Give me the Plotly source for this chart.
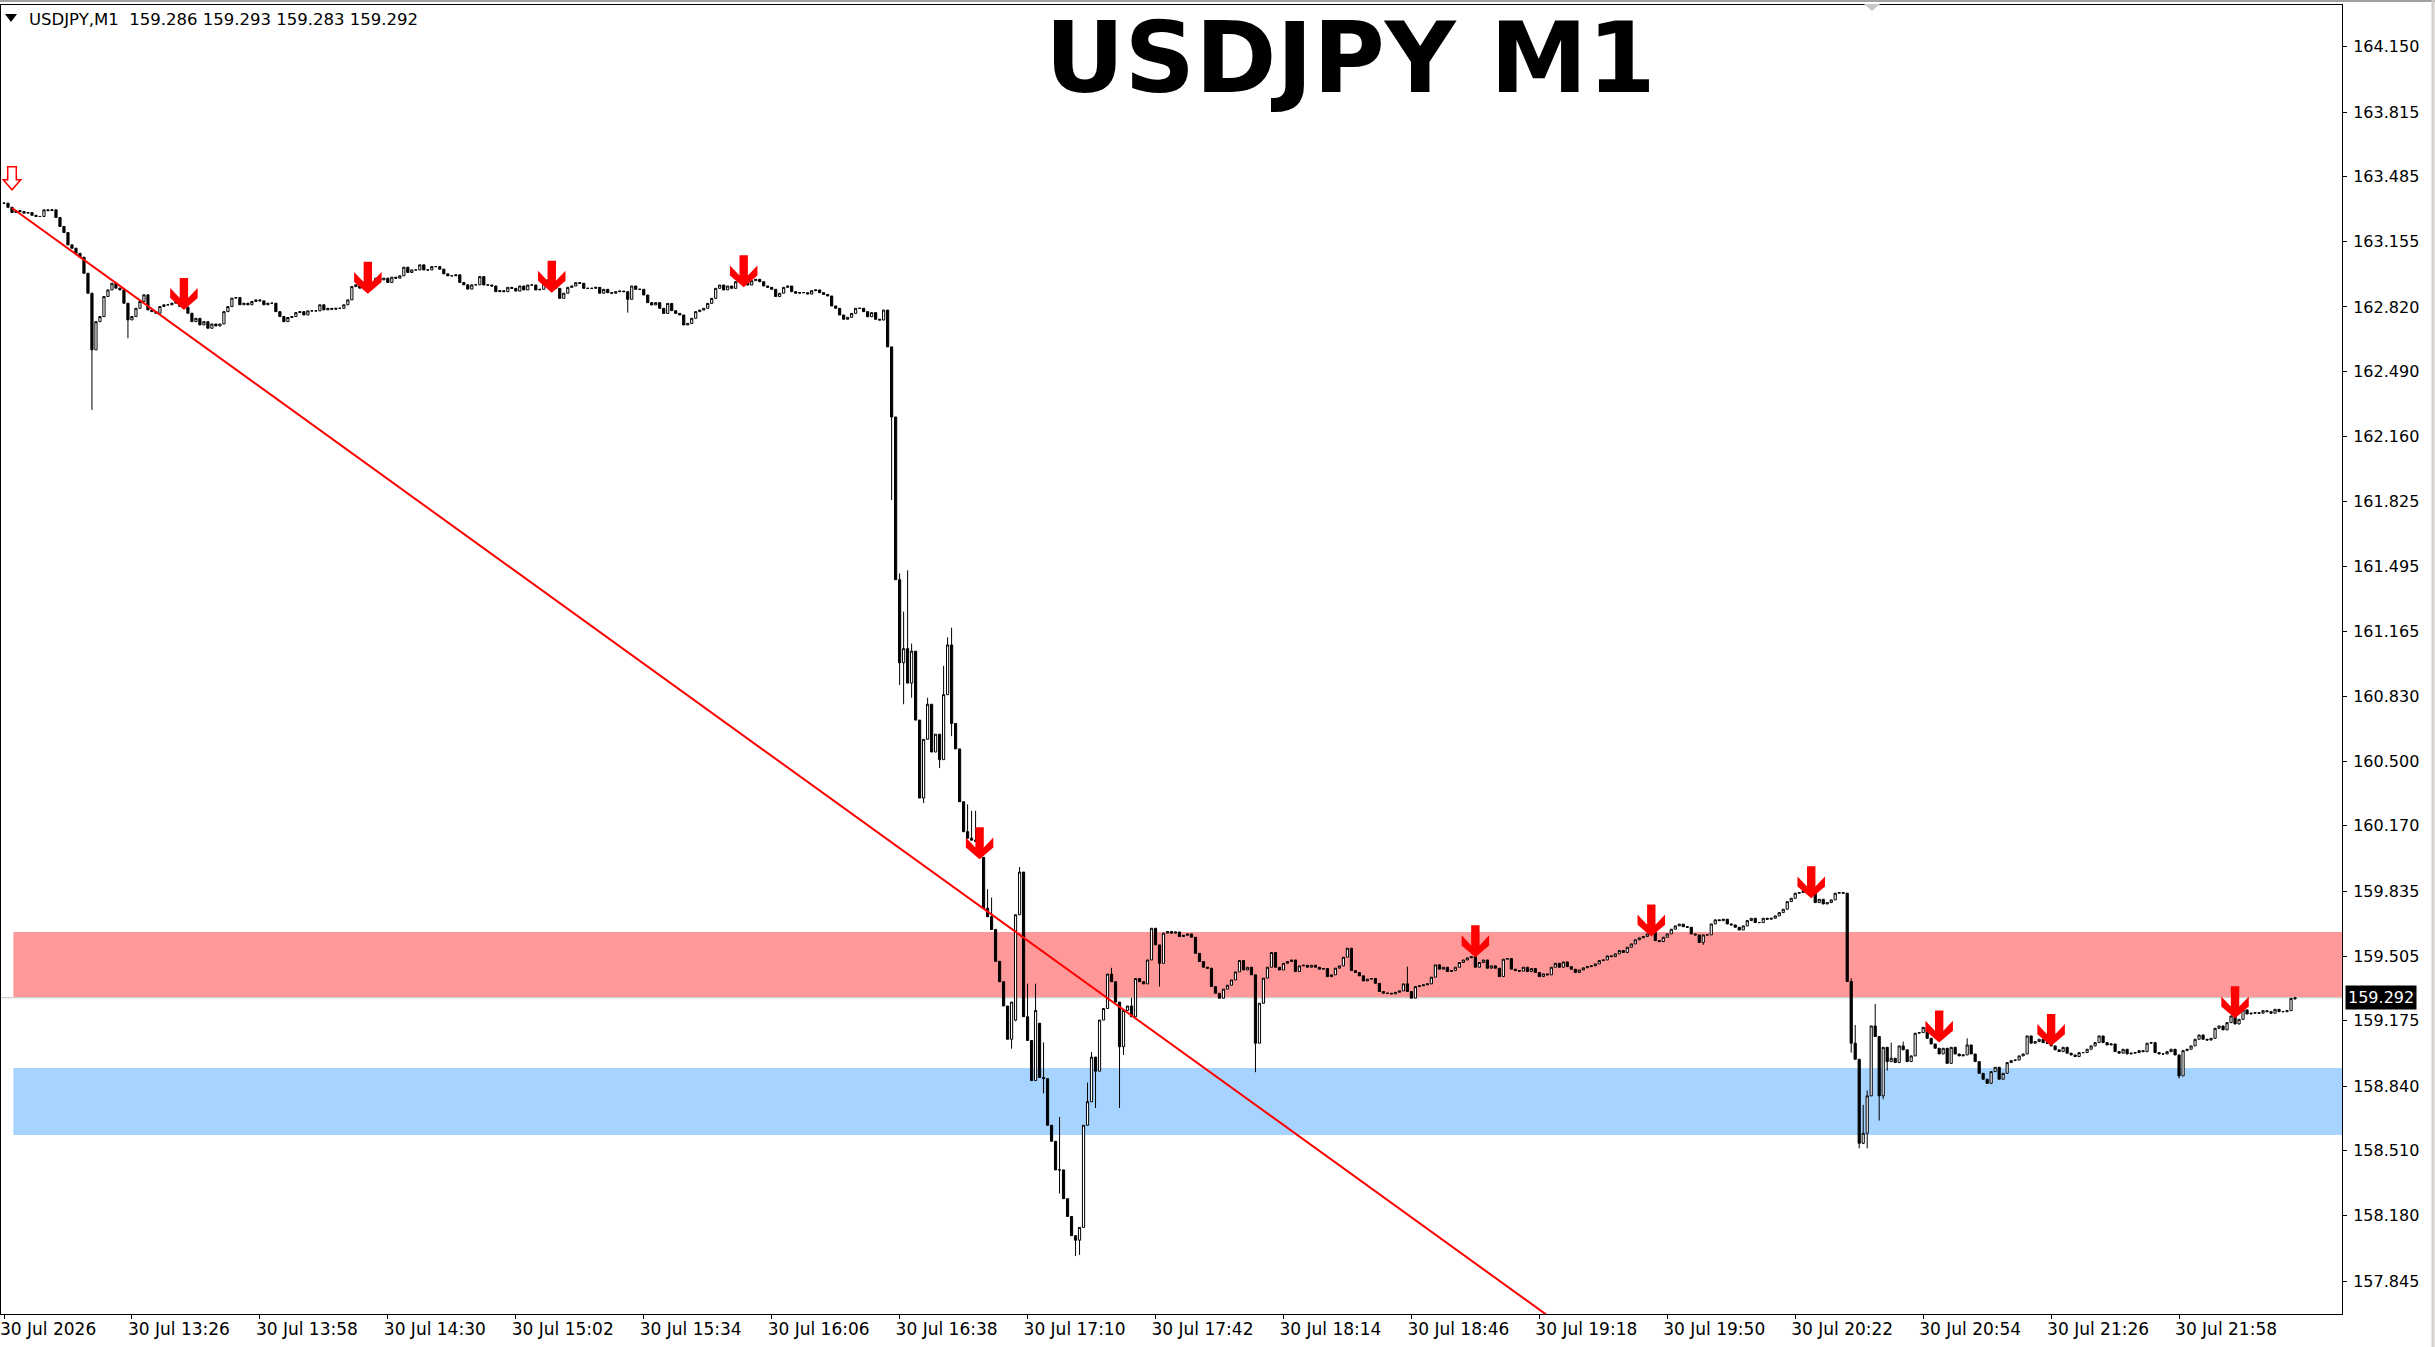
import numpy                as np
import plotly.graph_objects as go


# ---- values (USDJPY M1, 30 Jul) ----

time_labels = ['30 Jul 2026', '30 Jul 13:26', '30 Jul 13:58', '30 Jul 14:30', '30 Jul 15:02',
			   '30 Jul 15:34', '30 Jul 16:06', '30 Jul 16:38', '30 Jul 17:10', '30 Jul 17:42',
			   '30 Jul 18:14', '30 Jul 18:46', '30 Jul 19:18', '30 Jul 19:50', '30 Jul 20:22',
			   '30 Jul 20:54', '30 Jul 21:26', '30 Jul 21:58']
time_label_bars = [0, 32, 64, 96, 128, 160, 192, 224, 256, 288, 320, 352, 384, 416, 448, 480, 512, 544]

price_ticks = [164.150, 163.815, 163.485, 163.155, 162.820, 162.490, 162.160, 161.825, 161.495, 161.165,
			   160.830, 160.500, 160.170, 159.835, 159.505, 159.175, 158.840, 158.510, 158.180, 157.845]

# close of every one-minute bar, starting 12:54
closes = [
	163.350, 163.329, 163.302, 163.312, 163.307, 163.299, 163.302, 163.288, 163.282, 163.282,   # 0
	163.316, 163.312, 163.316, 163.277, 163.231, 163.200, 163.137, 163.120, 163.094, 163.074,   # 10
	162.992, 162.890, 162.601, 162.745, 162.771, 162.873, 162.907, 162.941, 162.916, 162.907,   # 20
	162.839, 162.754, 162.771, 162.813, 162.848, 162.882, 162.805, 162.796, 162.788, 162.822,   # 30
	162.831, 162.831, 162.839, 162.848, 162.822, 162.819, 162.788, 162.745, 162.762, 162.728,   # 40
	162.745, 162.711, 162.733, 162.723, 162.733, 162.796, 162.822, 162.865, 162.868, 162.831,   # 50
	162.839, 162.831, 162.848, 162.856, 162.851, 162.831, 162.839, 162.839, 162.796, 162.771,   # 60
	162.745, 162.766, 162.771, 162.791, 162.796, 162.779, 162.800, 162.800, 162.800, 162.831,   # 70
	162.805, 162.813, 162.808, 162.813, 162.813, 162.831, 162.856, 162.924, 162.933, 162.916,   # 80
	162.924, 162.916, 162.941, 162.967, 162.958, 162.967, 162.945, 162.972, 162.967, 162.979,   # 90
	163.023, 162.996, 163.009, 163.009, 163.035, 163.009, 163.009, 163.026, 163.026, 163.013,   # 100
	162.989, 162.979, 162.979, 162.984, 162.945, 162.933, 162.911, 162.933, 162.933, 162.975,   # 110
	162.932, 162.932, 162.927, 162.898, 162.903, 162.898, 162.920, 162.915, 162.901, 162.927,   # 120
	162.907, 162.932, 162.932, 162.907, 162.910, 162.958, 162.949, 162.932, 162.915, 162.864,   # 130
	162.890, 162.920, 162.927, 162.944, 162.941, 162.915, 162.915, 162.915, 162.920, 162.890,   # 140
	162.910, 162.893, 162.890, 162.898, 162.901, 162.898, 162.859, 162.927, 162.910, 162.910,   # 150
	162.881, 162.842, 162.830, 162.842, 162.813, 162.787, 162.838, 162.801, 162.787, 162.779,   # 160
	162.728, 162.736, 162.762, 162.796, 162.804, 162.813, 162.838, 162.864, 162.915, 162.932,   # 170
	162.907, 162.927, 162.915, 162.949, 162.958, 162.958, 162.932, 162.954, 162.961, 162.949,   # 180
	162.927, 162.920, 162.910, 162.873, 162.890, 162.920, 162.927, 162.898, 162.890, 162.893,   # 190
	162.893, 162.886, 162.903, 162.907, 162.893, 162.884, 162.876, 162.825, 162.813, 162.779,   # 200
	162.757, 162.767, 162.787, 162.813, 162.813, 162.796, 162.770, 162.791, 162.757, 162.753,   # 210
	162.804, 162.616, 162.258, 161.427, 161.003, 161.075, 160.899, 161.062, 160.710, 160.312,   # 220
	160.612, 160.791, 160.547, 160.638, 160.508, 160.840, 161.094, 160.693, 160.563, 160.293,   # 230
	160.140, 160.107, 160.097, 160.091, 160.009, 159.749, 159.706, 159.641, 159.478, 159.374,   # 240
	159.250, 159.080, 159.270, 159.716, 159.934, 159.195, 159.074, 158.869, 159.227, 158.885,   # 250
	158.879, 158.641, 158.559, 158.413, 158.413, 158.266, 158.175, 158.077, 158.054, 158.119,   # 260
	158.641, 158.761, 158.989, 158.917, 159.178, 159.237, 159.413, 159.374, 159.270, 159.042,   # 270
	159.227, 159.250, 159.195, 159.390, 159.374, 159.363, 159.485, 159.647, 159.562, 159.468,   # 280
	159.622, 159.630, 159.622, 159.628, 159.605, 159.611, 159.618, 159.601, 159.519, 159.477,   # 290
	159.448, 159.443, 159.349, 159.315, 159.290, 159.336, 159.356, 159.383, 159.424, 159.482,   # 300
	159.434, 159.448, 159.409, 159.060, 159.264, 159.392, 159.448, 159.523, 159.448, 159.434,   # 310
	159.468, 159.477, 159.485, 159.426, 159.455, 159.458, 159.448, 159.458, 159.448, 159.438,   # 320
	159.441, 159.400, 159.409, 159.443, 159.455, 159.499, 159.545, 159.431, 159.421, 159.404,   # 330
	159.378, 159.387, 159.390, 159.366, 159.324, 159.315, 159.315, 159.312, 159.320, 159.327,   # 340
	159.363, 159.324, 159.290, 159.349, 159.353, 159.358, 159.363, 159.397, 159.460, 159.438,   # 350
	159.448, 159.426, 159.431, 159.448, 159.472, 159.485, 159.496, 159.502, 159.448, 159.472,   # 360
	159.485, 159.443, 159.455, 159.443, 159.400, 159.489, 159.492, 159.438, 159.431, 159.428,   # 370
	159.448, 159.426, 159.441, 159.421, 159.400, 159.414, 159.409, 159.448, 159.468, 159.448,   # 380
	159.475, 159.451, 159.438, 159.421, 159.434, 159.445, 159.451, 159.455, 159.465, 159.482,   # 390
	159.485, 159.506, 159.502, 159.516, 159.533, 159.523, 159.550, 159.567, 159.588, 159.598,   # 400
	159.605, 159.618, 159.625, 159.584, 159.579, 159.601, 159.618, 159.642, 159.659, 159.668,   # 410
	159.655, 159.652, 159.618, 159.613, 159.574, 159.613, 159.613, 159.669, 159.690, 159.686,   # 420
	159.693, 159.669, 159.664, 159.652, 159.638, 159.659, 159.686, 159.698, 159.676, 159.676,   # 430
	159.698, 159.693, 159.698, 159.710, 159.727, 159.744, 159.783, 159.800, 159.826, 159.829,   # 440
	159.839, 159.834, 159.829, 159.778, 159.795, 159.771, 159.778, 159.792, 159.826, 159.829,   # 450
	159.826, 159.375, 159.060, 158.978, 158.549, 158.600, 158.791, 159.148, 159.094, 158.791,   # 460
	159.039, 158.966, 158.983, 158.961, 159.046, 159.026, 158.966, 158.995, 159.111, 159.114,   # 470
	159.141, 159.085, 159.056, 159.034, 159.005, 159.034, 158.957, 159.039, 159.005, 158.995,   # 480
	159.000, 159.051, 159.005, 158.966, 158.906, 158.876, 158.855, 158.915, 158.937, 158.876,   # 490
	158.906, 158.961, 158.971, 158.974, 158.995, 159.005, 159.097, 159.060, 159.068, 159.080,   # 500
	159.063, 159.060, 159.046, 159.026, 159.017, 159.039, 159.009, 159.000, 158.992, 159.012,   # 510
	159.012, 159.029, 159.046, 159.063, 159.097, 159.063, 159.051, 159.056, 159.017, 159.009,   # 520
	159.029, 159.005, 159.009, 159.012, 159.022, 159.017, 159.060, 159.063, 159.012, 159.005,   # 530
	159.005, 159.017, 159.029, 159.000, 158.893, 159.022, 159.029, 159.046, 159.080, 159.102,   # 540
	159.080, 159.076, 159.085, 159.136, 159.148, 159.128, 159.165, 159.199, 159.158, 159.182,   # 550
	159.230, 159.209, 159.213, 159.216, 159.213, 159.226, 159.221, 159.213, 159.233, 159.221,   # 560
	159.221, 159.226, 159.289, 159.292                                                          # 570
]

# opens that did not start at the previous close
open_gaps = {253: 159.178, 259: 159.162, 573: 159.286}

# visible wick ends
wick_high = {224: 161.459, 225: 161.264, 226: 161.475, 227: 161.101, 231: 160.824, 235: 160.987,
			 236: 161.133, 237: 161.182, 241: 160.280, 242: 160.247, 243: 160.247, 246: 159.846,
			 247: 159.804, 254: 159.960, 256: 159.364, 258: 159.364, 260: 159.064, 264: 158.683,
			 271: 158.859, 272: 159.015, 277: 159.445, 282: 159.292, 351: 159.451, 462: 159.392,
			 463: 159.153, 465: 158.745, 466: 158.818, 468: 159.260, 472: 159.063, 475: 159.068,
			 491: 159.085, 573: 159.293}
wick_low  = {22: 162.294, 31: 162.660, 156: 162.791, 222: 161.834, 224: 160.889, 225: 160.791,
			 227: 160.824, 230: 160.286, 234: 160.465, 237: 160.628, 252: 159.032, 253: 159.172,
			 260: 158.804, 264: 158.292, 268: 157.973, 269: 157.979, 273: 158.729, 279: 158.729,
			 280: 159.000, 289: 159.349, 313: 158.912, 425: 159.562, 462: 159.012, 464: 158.523,
			 465: 158.545, 466: 158.523, 469: 158.665, 470: 158.774, 471: 158.920, 544: 158.880,
			 573: 159.283}

last_quote = [159.286, 159.293, 159.283, 159.292]

sell_zone      = [159.296, 159.628]
buy_zone       = [158.591, 158.933]
zone_start_bar = 2.35

trend_bars   = [2, 386]
trend_prices = [163.325, 157.670]

first_signal_bar = 2
first_signal_tip = 163.418
signal_bars = [45, 91, 137, 185, 244, 368, 412, 452, 484, 512, 558]
signal_tips = [162.805, 162.887, 162.893, 162.920, 159.999, 159.499, 159.605, 159.800, 159.063, 159.046, 159.187]


# ---- page geometry ----

W, H = 2435, 1347
ML, MR, MT, MB = 1, 93, 5, 33
PW = W - ML - MR
PH = H - MT - MB

x_range = [-0.75, 584.75]
y_range = [157.677, 164.362]

px_bar   = PW / (x_range[1] - x_range[0])
px_price = PH / (y_range[1] - y_range[0])

FONT = 'DejaVu Sans'


def px_x(x):
	return (x - ML) / PW


def px_y(y):
	return (H - MB - y) / PH


def arrow_path(bar, tip, pts):
	parts = ['%.4f,%.5f' % (bar + u / px_bar, tip + v / px_price) for u, v in pts]
	return 'M ' + ' L '.join(parts) + ' Z'


# arrow outlines in screen pixels, tip at (0, 0)
FILLED_ARROW = [(-4.2, 32), (4.2, 32), (4.2, 11.8), (13.75, 21.9), (13.75, 11.8), (0, 0),
				(-13.75, 11.8), (-13.75, 21.9), (-4.2, 11.8)]
HOLLOW_ARROW = [(-4.3, 23), (4.3, 23), (4.3, 10), (8.8, 10), (0, 0), (-8.8, 10), (-4.3, 10)]


def main():

	n     = len(closes)
	bars  = np.arange(n)
	opens = [closes[0]] + closes[:-1]
	for k, v in open_gaps.items():
		opens[k] = v

	highs = [max(o, c) for o, c in zip(opens, closes)]
	lows  = [min(o, c) for o, c in zip(opens, closes)]
	for k, v in wick_high.items():
		highs[k] = max(highs[k], v)
	for k, v in wick_low.items():
		lows[k] = min(lows[k], v)

	fig = go.Figure()

	fig.add_trace(go.Candlestick(
		x = bars, open = opens, high = highs, low = lows, close = closes,
		increasing = dict(line = dict(color = 'black', width = 1), fillcolor = 'white'),
		decreasing = dict(line = dict(color = 'black', width = 1), fillcolor = 'black'),
		whiskerwidth = 0,
		showlegend = False,
		hoverinfo = 'skip'
	))

	fig.add_trace(go.Scatter(
		x = trend_bars, y = trend_prices, mode = 'lines',
		line = dict(color = '#FF0000', width = 2),
		showlegend = False, hoverinfo = 'skip'
	))

	shapes = []
	# supply / demand zones
	shapes.append(dict(type = 'rect', xref = 'x', yref = 'y', layer = 'below',
					   x0 = zone_start_bar, x1 = x_range[1], y0 = sell_zone[0], y1 = sell_zone[1],
					   fillcolor = '#FF9999', line = dict(width = 0)))
	shapes.append(dict(type = 'rect', xref = 'x', yref = 'y', layer = 'below',
					   x0 = zone_start_bar, x1 = x_range[1], y0 = buy_zone[0], y1 = buy_zone[1],
					   fillcolor = '#A6D3FF', line = dict(width = 0)))
	# bid line
	shapes.append(dict(type = 'line', xref = 'paper', yref = 'y', layer = 'below',
					   x0 = 0, x1 = 1, y0 = last_quote[3], y1 = last_quote[3],
					   line = dict(color = '#C0C0C0', width = 1)))

	# sell arrows
	for b, t in zip(signal_bars, signal_tips):
		shapes.append(dict(type = 'path', xref = 'x', yref = 'y',
						   path = arrow_path(b, t, FILLED_ARROW),
						   fillcolor = '#FF0000', line = dict(width = 0)))
	shapes.append(dict(type = 'path', xref = 'x', yref = 'y',
					   path = arrow_path(first_signal_bar, first_signal_tip, HOLLOW_ARROW),
					   fillcolor = 'white', line = dict(color = '#FF0000', width = 1.5)))

	# window chrome
	shapes.append(dict(type = 'line', xref = 'paper', yref = 'paper',
					   x0 = px_x(0), x1 = px_x(W), y0 = px_y(1), y1 = px_y(1),
					   line = dict(color = '#A0A0A0', width = 2)))
	shapes.append(dict(type = 'line', xref = 'paper', yref = 'paper',
					   x0 = px_x(2433), x1 = px_x(2433), y0 = px_y(0), y1 = px_y(H),
					   line = dict(color = '#D4D0C8', width = 3)))
	shapes.append(dict(type = 'path', xref = 'paper', yref = 'paper',
					   path = 'M %f,%f L %f,%f L %f,%f Z' % (px_x(1864), px_y(4), px_x(1880), px_y(4), px_x(1872), px_y(11)),
					   fillcolor = '#C8C8C8', line = dict(width = 0)))
	shapes.append(dict(type = 'path', xref = 'paper', yref = 'paper',
					   path = 'M %f,%f L %f,%f L %f,%f Z' % (px_x(5), px_y(14), px_x(17), px_y(14), px_x(11), px_y(22)),
					   fillcolor = 'black', line = dict(width = 0)))

	header = 'USDJPY,M1\u00a0\u00a0' + ' '.join('%.3f' % q for q in last_quote)

	annotations = [
		dict(xref = 'paper', yref = 'paper', x = px_x(27), y = px_y(19),
			 xanchor = 'left', yanchor = 'middle', showarrow = False,
			 text = header, font = dict(family = FONT, size = 16.5, color = 'black')),
		dict(xref = 'paper', yref = 'paper', x = px_x(1350), y = px_y(0),
			 xanchor = 'center', yanchor = 'top', showarrow = False, borderpad = 0,
			 text = 'USDJPY M1', font = dict(family = FONT, size = 98, color = 'black', weight = 'bold')),
		dict(xref = 'paper', yref = 'y', x = 1, y = last_quote[3], xshift = 3,
			 xanchor = 'left', yanchor = 'middle', showarrow = False,
			 text = '%.3f' % last_quote[3], bgcolor = 'black', borderpad = 2,
			 font = dict(family = FONT, size = 16, color = 'white')),
	]

	fig.update_layout(
		width = W,
		height = H,
		margin = dict(l = ML, r = MR, t = MT, b = MB, pad = 0),
		paper_bgcolor = 'white',
		plot_bgcolor = 'white',
		font = dict(family = FONT, color = 'black', size = 16),
		boxgap = 0.22,
		shapes = shapes,
		annotations = annotations,
		showlegend = False
	)
	fig.update_xaxes(
		range = x_range,
		rangeslider = dict(visible = False),
		tickvals = time_label_bars,
		ticktext = time_labels,
		tickfont = dict(family = FONT, size = 17, color = 'black'),
		ticklabelposition = 'outside right',
		ticklabelshift = -5,
		ticks = 'outside',
		ticklen = 4,
		tickcolor = 'black',
		showline = True,
		mirror = True,
		linecolor = 'black',
		linewidth = 1,
		showgrid = False,
		zeroline = False
	)
	fig.update_yaxes(
		side = 'right',
		range = y_range,
		tickvals = price_ticks,
		tickformat = '.3f',
		ticks = 'outside',
		ticklen = 4,
		tickcolor = 'black',
		ticklabelstandoff = 3,
		showline = True,
		mirror = True,
		linecolor = 'black',
		linewidth = 1,
		showgrid = False,
		zeroline = False
	)

	# the page body has a default 8px margin; drop it so the chart sits flush like the terminal window
	fig.write_html('out.html',
				   config = dict(displayModeBar = False),
				   post_script = "document.body.style.margin = '0px';")


if __name__ == '__main__':
	main()
